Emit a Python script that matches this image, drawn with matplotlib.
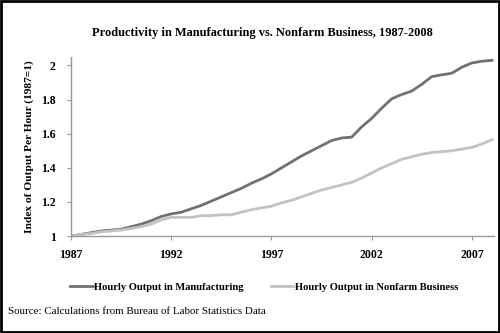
import numpy as np
import matplotlib.pyplot as plt
from matplotlib.patches import Rectangle

# half-year steps, index 1987 = 1
years = np.arange(1987.0, 2008.01, 0.5)
manufacturing = [1.00, 1.01, 1.02, 1.03, 1.035, 1.04, 1.055, 1.07, 1.09, 1.115,
                 1.13, 1.14, 1.16, 1.18, 1.205, 1.23, 1.255, 1.28, 1.31, 1.335,
                 1.365, 1.40, 1.435, 1.47, 1.50, 1.53, 1.56, 1.575, 1.58, 1.64,
                 1.69, 1.75, 1.805, 1.83, 1.85, 1.89, 1.935, 1.945, 1.955, 1.99,
                 2.015, 2.025, 2.03]
nonfarm = [1.00, 1.01, 1.015, 1.025, 1.03, 1.035, 1.045, 1.055, 1.07, 1.095,
           1.11, 1.11, 1.11, 1.12, 1.12, 1.125, 1.125, 1.14, 1.155, 1.165,
           1.175, 1.195, 1.21, 1.23, 1.25, 1.27, 1.285, 1.30, 1.315, 1.34,
           1.37, 1.40, 1.425, 1.45, 1.465, 1.48, 1.49, 1.495, 1.50, 1.51,
           1.52, 1.54, 1.565]
xticks = [1987, 1992, 1997, 2002, 2007]
yticks = [1, 1.2, 1.4, 1.6, 1.8, 2]
ytick_labels = ['1', '1.2', '1.4', '1.6', '1.8', '2']

plt.rcParams['font.family'] = ['Liberation Serif', 'DejaVu Serif']

fig = plt.figure(figsize=(5, 3.33), dpi=100)
ax = fig.add_axes([0.142, 0.291, 0.846, 0.538])

ax.plot(years, manufacturing, color='#717171', lw=2.0,
        label='Hourly Output in Manufacturing')
ax.plot(years, nonfarm, color='#c3c3c3', lw=2.0,
        label='Hourly Output in Nonfarm Business')

ax.set_xlim(1987, 2008.1)
ax.set_ylim(1, 2.05)
ax.set_xticks(xticks)
ax.set_xticklabels([str(x) for x in xticks], fontweight='bold', fontsize=8.5)
ax.set_yticks(yticks)
ax.set_yticklabels(ytick_labels, fontweight='bold', fontsize=8.5)
ax.tick_params(axis='both', length=3, color='#999999', width=0.8)
ax.tick_params(axis='x', pad=6)
ax.tick_params(axis='y', pad=8)
for side in ['top', 'right']:
    ax.spines[side].set_visible(False)
for side in ['left', 'bottom']:
    ax.spines[side].set_color('#999999')
    ax.spines[side].set_linewidth(1.0)

ax.set_ylabel('Index of Output Per Hour (1987=1)', fontweight='bold',
              fontsize=8.2, labelpad=5)

fig.text(0.524, 0.9, 'Productivity in Manufacturing vs. Nonfarm Business, 1987-2008',
         ha='center', va='center', fontsize=8.9, fontweight='bold')

fig.legend(loc='center', bbox_to_anchor=(0.528, 0.137), ncol=2, frameon=False,
           prop={'weight': 'bold', 'size': 7.6}, handlelength=2.2,
           handletextpad=0.1, columnspacing=2.6)

fig.text(0.016, 0.066, 'Source: Calculations from Bureau of Labor Statistics Data',
         ha='left', va='center', fontsize=7.9)

# outer frame
fig.patches.append(Rectangle((0.002, 0.003), 0.996, 0.994, transform=fig.transFigure,
                             fill=False, edgecolor='black', lw=2.0))

fig.savefig('out.png', dpi=100)
